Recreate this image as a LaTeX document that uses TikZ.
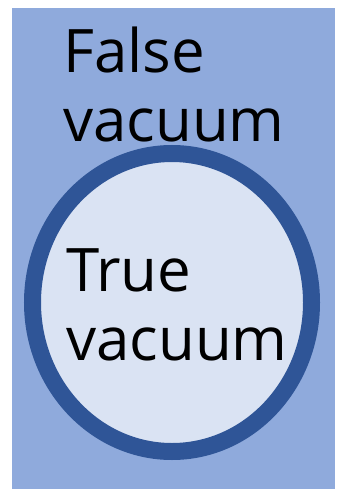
\documentclass[tikz,border=0pt]{standalone}
\usepackage{fontspec}
\setmainfont{Open Sans}
\usepackage{tikz}
\definecolor{fvblue}{HTML}{8FAADC}
\definecolor{wallblue}{HTML}{2F5597}
\definecolor{tvblue}{HTML}{DAE3F3}
\tikzset{
    vaclabel/.style={anchor=base west, align=left, inner sep=0pt,
        font=\fontsize{60}{69}\selectfont},
}

\begin{document}
\begin{tikzpicture}[x=1pt, y=-1pt]
    \useasboundingbox (0,0) rectangle (347,489);
    \fill[fvblue] (12,8) rectangle (335,489);
    \draw[wallblue, line width=17pt, fill=tvblue] (172,302.5) ellipse[x radius=139.5, y radius=149];
    % base anchor sits on the last line
    \node[vaclabel] (false) at (63,141.7) {False\\vacuum};
    \node[vaclabel] (true) at (66,360) {True\\vacuum};
\end{tikzpicture}
\end{document}
